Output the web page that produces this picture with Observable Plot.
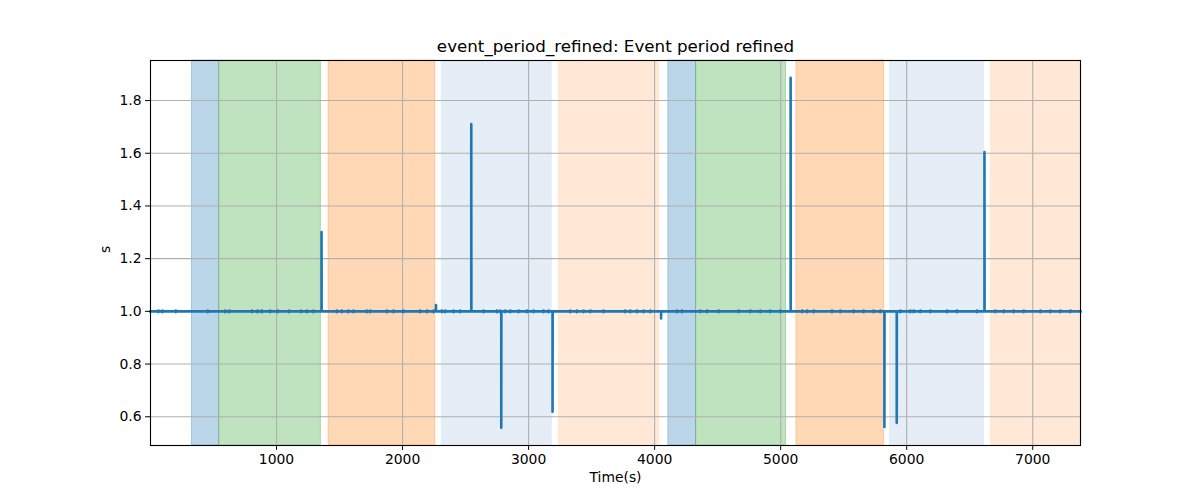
<!DOCTYPE html>
<html><head><meta charset="utf-8">
<script src="https://cdn.jsdelivr.net/npm/d3@7"></script>
<script src="https://cdn.jsdelivr.net/npm/@observablehq/plot@0.6"></script>
<style>body{margin:0;background:#fff;} #chart svg{display:block;}</style>
</head><body><div id="chart"></div>
<script>
const title = "event_period_refined: Event period refined";
const xLabel = "Time(s)";
const yLabel = "s";
const xTicks = [1000, 2000, 3000, 4000, 5000, 6000, 7000];
const yTicks = [0.6, 0.8, 1.0, 1.2, 1.4, 1.6, 1.8];
const timeRange = [0, 7379];
const valueRange = [0.491, 1.952];
const baseline = 1.0;

// shaded periods
const bandStarts = [329, 545, 1413, 2307, 3236, 4109, 4329, 5125, 5863, 6664];
const bandEnds   = [545, 1352, 2260, 3188, 4040, 4329, 5043, 5821, 6617, 7379];
const bandColors = ["#1f77b4", "#2ca02c", "#ff7f0e", "#e5edf7", "#ffe9d6",
                    "#1f77b4", "#2ca02c", "#ff7f0e", "#e5edf7", "#ffe9d6"];
const bandOpacity = [0.3, 0.3, 0.3, 1, 1, 0.3, 0.3, 0.3, 1, 1];

// large deviations
const spikeTimes  = [1357, 2265, 2545, 2783, 3190, 4051, 5079, 5823, 5921, 6617];
const spikeValues = [1.301, 1.024, 1.711, 0.558, 0.619, 0.973, 1.886, 0.561, 0.577, 1.605];

// small jitter ticks around 1.0
const jitterTimes = [63, 95, 201, 455, 593, 627, 805, 849, 884, 950, 1011, 1101, 1194, 1241, 1294,
  1479, 1519, 1571, 1611, 1717, 1744, 1876, 1929, 2008, 2140, 2194, 2246,
  2313, 2339, 2405, 2458, 2643, 2749, 2775, 2815, 2855, 2921, 2987, 3040, 3119, 3159,
  3331, 3384, 3437, 3490, 3595, 3767, 3807, 3860, 3913, 3966,
  4178, 4217, 4363, 4416, 4508, 4667, 4760, 4839, 4918, 4998,
  5170, 5210, 5262, 5408, 5474, 5579, 5659, 5738, 5791,
  5950, 6029, 6056, 6109, 6188, 6321, 6400, 6559,
  6704, 6770, 6849, 6929, 7061, 7140, 7220, 7299];
const jitterUp = 1.003;
const jitterDown = 0.997;

const bands = bandStarts.map((s, i) => ({x1: s, x2: bandEnds[i], fill: bandColors[i], op: bandOpacity[i]}));

const events = [];
spikeTimes.forEach((t, i) => events.push({t, vals: [spikeValues[i]]}));
jitterTimes.forEach(t => events.push({t, vals: [jitterUp, jitterDown]}));
events.sort((a, b) => a.t - b.t);
const series = [{t: timeRange[0], v: baseline}];
for (const e of events) {
  series.push({t: e.t, v: baseline});
  e.vals.forEach(v => series.push({t: e.t, v}));
  series.push({t: e.t + 1, v: baseline});
}
series.push({t: timeRange[1], v: baseline});

const chart = Plot.plot({
  width: 1200,
  height: 500,
  marginLeft: 150,
  marginRight: 120,
  marginTop: 60,
  marginBottom: 55,
  style: {fontFamily: "DejaVu Sans", fontSize: "13.9px", color: "black", background: "white"},
  x: {domain: timeRange},
  y: {domain: valueRange},
  marks: [
    Plot.rect(bands, {x1: "x1", x2: "x2", fill: "fill", fillOpacity: "op", stroke: "fill", strokeOpacity: d => d.op === 1 ? 0 : 0.3, strokeWidth: 1}),
    Plot.gridX(xTicks, {stroke: "#b0b0b0", strokeOpacity: 1, strokeWidth: 1.1}),
    Plot.gridY(yTicks, {stroke: "#b0b0b0", strokeOpacity: 1, strokeWidth: 1.1}),
    Plot.line(series, {x: "t", y: "v", stroke: "#1f77b4", strokeWidth: 2.6, strokeLinejoin: "round", strokeLinecap: "square"}),
    Plot.frame({stroke: "black", strokeWidth: 1.1}),
    Plot.axisX({ticks: xTicks, tickSize: 4.9, tickPadding: 4, label: null, fontSize: 13.9, tickFormat: d => String(d)}),
    Plot.axisY({ticks: yTicks, tickSize: 4.9, tickPadding: 4, label: null, fontSize: 13.9, tickFormat: d3.format(".1f")}),
    Plot.text([title], {frameAnchor: "top", dy: -8.3, lineAnchor: "bottom", fontSize: 16.7, fill: "black"}),
    Plot.text([xLabel], {frameAnchor: "bottom", dy: 36, fontSize: 13.9, fill: "black"}),
    Plot.text([yLabel], {frameAnchor: "left", dx: -45, rotate: -90, fontSize: 13.9, fill: "black"})
  ]
});
document.getElementById("chart").appendChild(chart);
</script>
</body></html>
